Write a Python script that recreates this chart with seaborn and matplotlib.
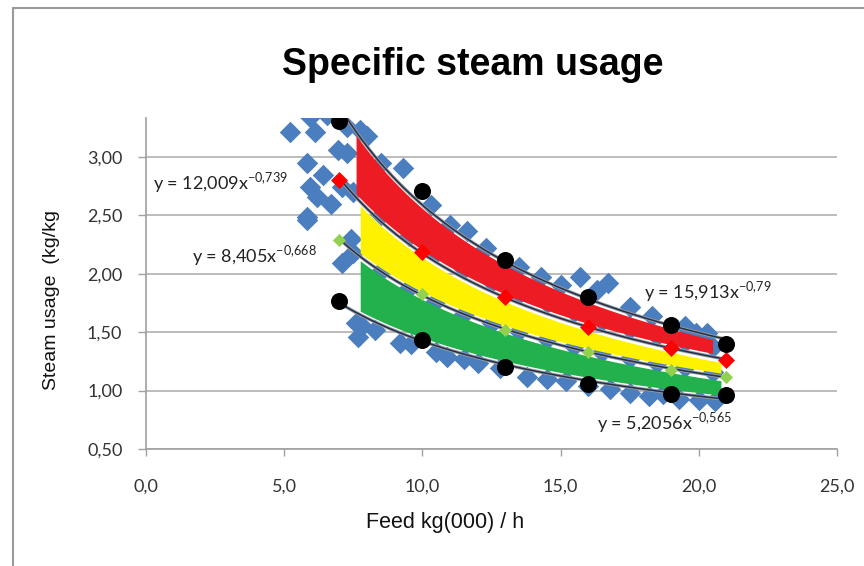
import numpy as np
import pandas as pd
import matplotlib
matplotlib.use("Agg")
import matplotlib.pyplot as plt
import seaborn as sns
from matplotlib.lines import Line2D

# ---------------- data ----------------
feed_points = [7, 10, 13, 16, 19, 21]
upper_black = [3.31, 2.71, 2.12, 1.80, 1.56, 1.40]
lower_black = [1.77, 1.43, 1.20, 1.06, 0.97, 0.96]
red_points = [2.80, 2.19, 1.80, 1.545, 1.365, 1.26]
green_points = [2.29, 1.83, 1.52, 1.33, 1.18, 1.12]

blue_x = [5.21, 5.93, 6.55, 6.11, 7.74, 7.27, 6.95, 7.27, 5.82, 5.93, 6.18, 5.82,
          7.10, 7.10, 5.82, 7.60, 7.67, 6.40, 6.70, 7.40,
          8.0, 8.5, 9.3, 10.3, 11.0, 11.6, 12.3, 13.5, 14.3, 15.0, 15.7, 16.3,
          16.7, 17.5, 18.3, 19.5, 20.3, 19.9,
          7.8, 8.3, 9.2, 9.6, 10.5, 10.9, 11.5, 12.0, 12.8, 13.8, 14.5, 15.2,
          16.0, 16.8, 17.5, 18.2, 18.7, 19.3, 20.0, 20.6,
          7.5, 8.5, 9.5, 10.5, 11.5, 12.5, 13.5, 14.5, 15.5, 16.5, 17.5, 18.5, 19.5, 20.5,
          7.5, 8.5, 9.5, 10.5, 11.5, 12.5, 13.5, 14.5, 15.5, 16.5, 17.5, 18.5, 19.5, 20.5]
blue_y = [3.21, 3.34, 3.36, 3.21, 3.23, 3.26, 3.06, 3.03, 2.95, 2.74, 2.66, 2.49,
          2.74, 2.09, 2.46, 1.58, 1.46, 2.85, 2.60, 2.30,
          3.18, 2.95, 2.91, 2.59, 2.42, 2.37, 2.22, 2.06, 1.97, 1.90, 1.97, 1.86,
          1.92, 1.72, 1.64, 1.55, 1.49, 1.49,
          1.55, 1.52, 1.41, 1.40, 1.33, 1.29, 1.27, 1.24, 1.19, 1.12, 1.10, 1.08,
          1.04, 1.01, 0.98, 0.95, 0.97, 0.93, 0.92, 0.91,
          2.70, 2.50, 2.32, 2.18, 2.04, 1.93, 1.83, 1.75, 1.67, 1.60, 1.53, 1.47, 1.42, 1.37,
          2.18, 2.02, 1.88, 1.77, 1.66, 1.58, 1.51, 1.44, 1.38, 1.33, 1.28, 1.24, 1.20, 1.16]

x_ticks = [0, 5, 10, 15, 20, 25]
y_ticks = [0.5, 1.0, 1.5, 2.0, 2.5, 3.0]
eq_upper = r"y = 15,913x$^{\mathregular{-0{,}79}}$"
eq_red = r"y = 12,009x$^{\mathregular{-0{,}739}}$"
eq_green = r"y = 8,405x$^{\mathregular{-0{,}668}}$"
eq_lower = r"y = 5,2056x$^{\mathregular{-0{,}565}}$"

# ---------------- power fits (like Excel trend lines) ----------------
def power_fit(x, y):
    b, lna = np.polyfit(np.log(x), np.log(y), 1)
    return np.exp(lna), b

fits = {k: power_fit(feed_points, v) for k, v in
        dict(upper=upper_black, red=red_points, green=green_points, lower=lower_black).items()}

def curve(key, xs):
    a, b = fits[key]
    return a * np.power(xs, b)

# ---------------- figure ----------------
sns.set_theme(style="white")
plt.rcParams["font.family"] = ["Liberation Sans", "DejaVu Sans"]
plt.rcParams["mathtext.fontset"] = "custom"
plt.rcParams["mathtext.rm"] = "Lato"
fig = plt.figure(figsize=(8.64, 5.66), dpi=100)
ax = fig.add_axes([146 / 864, 1 - 449 / 566, (837 - 146) / 864, (449 - 118) / 566])

ax.set_xlim(0, 25)
ax.set_ylim(0.5, 0.5 + (449 - 118) / 116.8)

# grid
for yv in y_ticks:
    ax.axhline(yv, color="#b0b0b0", lw=1.2, zorder=0)

blue_df = pd.DataFrame({"x": blue_x, "y": blue_y})
sns.scatterplot(data=blue_df, x="x", y="y", marker="D", s=120, color="#4a7ebf",
                edgecolor="#4a7ebf", linewidth=0, ax=ax, zorder=2, legend=False)

# painted bands
xr = np.linspace(7.6, 20.5, 200)
ax.fill_between(xr, curve("red", xr) + 0.03, curve("upper", xr) - 0.03,
                color="#ed1c24", lw=0, zorder=3)
xy = np.linspace(7.75, 20.8, 200)
ax.fill_between(xy, curve("green", xy) + 0.03, curve("red", xy) - 0.035,
                color="#fff200", lw=0, zorder=3)
xg = np.linspace(7.75, 20.8, 200)
ax.fill_between(xg, curve("lower", xg) + 0.03, curve("green", xg) - 0.035,
                color="#22b14c", lw=0, zorder=3)

# trend lines
xt = np.linspace(7, 21, 200)
for key in ["upper", "red", "green", "lower"]:
    ax.plot(xt, curve(key, xt), color="#9a9a9a", lw=2.4, zorder=4)
    ax.plot(xt, curve(key, xt), color="#1f3050", lw=1.1, zorder=5)

pts = pd.DataFrame({"x": feed_points, "ub": upper_black, "lb": lower_black,
                    "r": red_points, "g": green_points})
sns.scatterplot(data=pts, x="x", y="g", marker="D", s=45, color="#92d050",
                linewidth=0, ax=ax, zorder=6, legend=False)
sns.scatterplot(data=pts, x="x", y="r", marker="D", s=75, color="#ff0000",
                linewidth=0, ax=ax, zorder=6, legend=False)
sns.scatterplot(data=pts, x="x", y="ub", marker="o", s=150, color="black",
                linewidth=0, ax=ax, zorder=7, legend=False)
sns.scatterplot(data=pts, x="x", y="lb", marker="o", s=150, color="black",
                linewidth=0, ax=ax, zorder=7, legend=False)

# equations
eq_kw = dict(fontsize=13, color="#222222", zorder=8, family=["Lato", "DejaVu Sans"])
ax.text(0.25, 2.78, eq_red, va="center", ha="left", **eq_kw)
ax.text(1.66, 2.16, eq_green, va="center", ha="left", **eq_kw)
ax.text(18.0, 1.85, eq_upper, va="center", ha="left", **eq_kw)
ax.text(16.3, 0.73, eq_lower, va="center", ha="left", **eq_kw)

# axes styling
ax.set_xticks(x_ticks)
ax.set_xticklabels([f"{v:.1f}".replace(".", ",") for v in x_ticks])
ax.set_yticks(y_ticks)
ax.set_yticklabels([f"{v:.2f}".replace(".", ",") for v in y_ticks])
for lab in ax.get_xticklabels() + ax.get_yticklabels():
    lab.set_family(["Lato", "DejaVu Sans"])
    lab.set_fontsize(13)
    lab.set_color("#333333")
ax.tick_params(axis="x", which="major", length=5, width=1, color="#a0a0a0",
               direction="out", pad=16, bottom=True)
ax.tick_params(axis="y", which="major", length=6, width=1, color="#a0a0a0",
               direction="out", pad=11, left=True)
for side in ["top", "right"]:
    ax.spines[side].set_visible(False)
for side in ["left", "bottom"]:
    ax.spines[side].set_color("#a0a0a0")
    ax.spines[side].set_linewidth(1.2)
ax.set_xlabel("")
ax.set_ylabel("")

fig.text(445 / 864, 1 - 528 / 566, "Feed kg(000) / h", ha="center", va="baseline",
         fontsize=15.5, color="#111111")
fig.text(52 / 864, 1 - 300 / 566, "Steam usage  (kg/kg", ha="center", va="center",
         rotation=90, fontsize=14, color="#111111")
fig.text(473 / 864, 1 - 75 / 566, "Specific steam usage", ha="center", va="baseline",
         fontsize=27, fontweight="bold", color="black")

# chart-area border
fig.add_artist(Line2D([13 / 864, 1], [1 - 8 / 566, 1 - 8 / 566], color="#9a9a9a",
                      lw=1.5, transform=fig.transFigure))
fig.add_artist(Line2D([13 / 864, 13 / 864], [0, 1 - 8 / 566], color="#9a9a9a",
                      lw=1.5, transform=fig.transFigure))

fig.savefig("out.png", dpi=100)
